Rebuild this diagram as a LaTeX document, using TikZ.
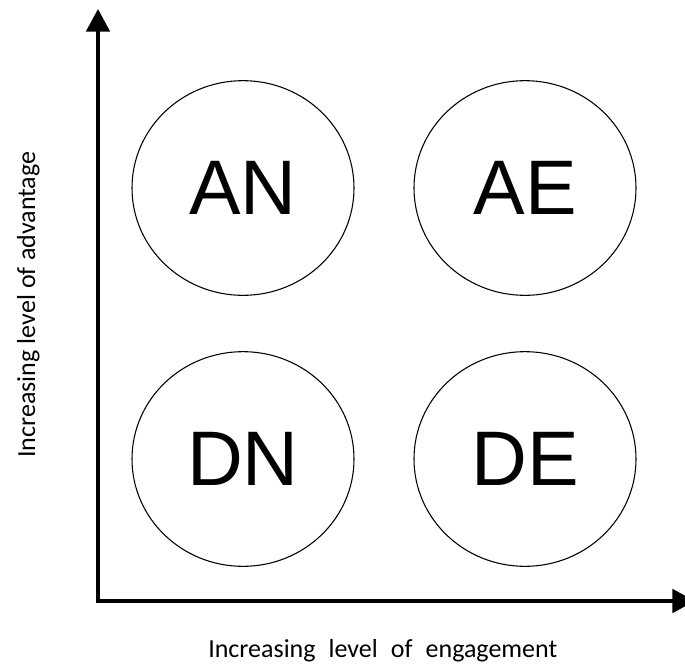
\documentclass[tikz,border=0pt]{standalone}
\usepackage{fontspec}
\setmainfont{Carlito}
\newfontfamily\circfont{Liberation Sans}
\usetikzlibrary{arrows.meta,shapes.geometric}
\begin{document}
\begin{tikzpicture}[x=0.75pt,y=-0.75pt,
  axis/.style={line width=3pt,-{Triangle[width=17.5pt,length=17pt]}},
  quad/.style={draw,line width=0.8pt,ellipse,minimum width=166.5pt,minimum height=161pt,inner sep=0pt,font=\circfont\fontsize{58}{60}\selectfont},
  axlabel/.style={font=\fontsize{19.5}{22}\selectfont,inner sep=0pt}]
\useasboundingbox (0,0) rectangle (685,664);
\coordinate (O) at (98,601);
\coordinate (ytip) at (98,9);
\coordinate (xtip) at (695,601);
\draw[axis] ([yshift=-1.5pt]O) -- (ytip);
\draw[axis] ([xshift=-1.5pt]O) -- (xtip);
\node[quad] (AN) at (243,188) {AN};
\node[quad] (AE) at (525,188) {AE};
\node[quad] (DN) at (243,459) {DN};
\node[quad] (DE) at (525,459) {DE};
\node[axlabel,anchor=base west] (xl) at (208,657) {\makebox[261.75pt][s]{Increasing level of engagement}};
\node[axlabel,anchor=base west,rotate=90] (yl) at (35,458) {\makebox[229.5pt][s]{Increasing level of advantage}};
\end{tikzpicture}
\end{document}
